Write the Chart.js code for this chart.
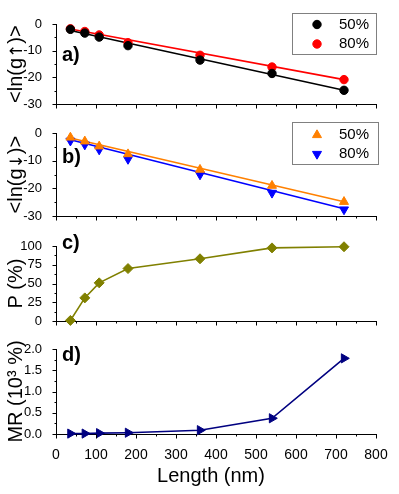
<!DOCTYPE html>
<html><head><meta charset="utf-8">
<script src="https://cdn.jsdelivr.net/npm/chart.js@4.4.1/dist/chart.umd.min.js"></script>
<style>
html,body{margin:0;padding:0;background:#fff;}
#wrap{position:relative;width:399px;height:494px;overflow:hidden;background:#fff;}
canvas{position:absolute;left:0;}
</style></head><body>
<div id="wrap">
<canvas id="pa" width="399" height="118" style="top:0px"></canvas>
<canvas id="pb" width="399" height="112" style="top:118px"></canvas>
<canvas id="pc" width="399" height="105" style="top:230px"></canvas>
<canvas id="pd" width="399" height="159" style="top:335px"></canvas>
</div>
<script>
// ---- data ----
const lengths = [36, 72, 108, 180, 360, 540, 720];
const fitX = [36, 720];
const gUp50 = [-2.0, -3.4, -4.9, -8.1, -13.5, -18.5, -24.8];
const gUp80 = [-1.8, -2.8, -4.1, -7.0, -11.7, -16.1, -20.8];
const gUp50Fit = [-2.4, -24.8];
const gUp80Fit = [-1.9, -20.8];
const gDn50 = [-1.6, -3.0, -4.8, -7.6, -13.2, -19.0, -24.8];
const gDn80 = [-2.8, -4.2, -6.0, -9.4, -15.0, -21.6, -27.6];
const gDn50Fit = [-1.8, -24.8];
const gDn80Fit = [-2.4, -27.3];
const polarization = [1, 31, 51, 70, 83, 97.5, 99];
const magnetoresistance = [0.01, 0.01, 0.02, 0.03, 0.09, 0.37, 1.78];
const xTickValues = [0, 100, 200, 300, 400, 500, 600, 700, 800];
const gTickValues = [-30, -20, -10, 0];
const pTickValues = [0, 25, 50, 75, 100];
const mrTickValues = [0, 0.5, 1.0, 1.5, 2.0];
const seriesLabels = ['50%', '80%'];
const xTitle = 'Length (nm)';
const yTitles = ['<ln(g\u2191)>', '<ln(g\u2193)>', 'P (%)', 'MR (10\u00B3 %)'];
const panelLabels = ['a)', 'b)', 'c)', 'd)'];

const FONT = "'Liberation Sans', Arial, Helvetica, sans-serif";
const ARROW_FONT = "'DejaVu Sans', sans-serif";

function pts(xs, ys) { return xs.map((x, i) => ({ x: x, y: ys[i] })); }

function drawYTitle(ctx, text, cx, cy) {
  ctx.save();
  ctx.translate(cx, cy);
  ctx.rotate(-Math.PI / 2);
  ctx.fillStyle = '#000';
  ctx.textAlign = 'left';
  ctx.textBaseline = 'alphabetic';
  const parts = [];
  let buf = '';
  for (const ch of text) {
    if (ch === '\u2191' || ch === '\u2193') {
      if (buf) parts.push({ t: buf, f: '20px ' + FONT });
      parts.push({ t: ch, f: '17px ' + ARROW_FONT });
      buf = '';
    } else buf += ch;
  }
  if (buf) parts.push({ t: buf, f: '20px ' + FONT });
  let total = 0;
  parts.forEach(p => { ctx.font = p.f; p.w = ctx.measureText(p.t).width; total += p.w; });
  let x = -total / 2;
  parts.forEach(p => { ctx.font = p.f; ctx.fillText(p.t, x, 0); x += p.w; });
  ctx.restore();
}

const decor = {
  id: 'decor',
  afterDraw(chart, args, opts) {
    const ctx = chart.ctx;
    const ca = chart.chartArea;
    ctx.save();
    ctx.strokeStyle = '#000';
    ctx.lineWidth = 1;
    // tick marks (major + minor)
    ['x', 'y'].forEach(id => {
      const s = chart.scales[id];
      const t = opts.ticks[id];
      const n = Math.round((s.max - s.min) / t.minor);
      for (let i = 0; i <= n; i++) {
        const v = s.min + i * t.minor;
        const r = v / t.major;
        const major = Math.abs(r - Math.round(r)) < 1e-6;
        const len = major ? 4 : 2;
        const p = Math.round(s.getPixelForValue(v)) + 0.5;
        ctx.beginPath();
        if (id === 'x') {
          const yb = Math.round(ca.bottom) + 0.5;
          ctx.moveTo(p, yb); ctx.lineTo(p, yb + len);
        } else {
          const xl = Math.round(ca.left) + 0.5;
          ctx.moveTo(xl - len, p); ctx.lineTo(xl, p);
        }
        ctx.stroke();
      }
    });
    // y-axis title
    drawYTitle(ctx, opts.yTitle, 22, (ca.top + ca.bottom) / 2);
    // x-axis title
    if (opts.xTitle) {
      ctx.fillStyle = '#000';
      ctx.font = '20px ' + FONT;
      ctx.textAlign = 'center';
      ctx.textBaseline = 'middle';
      ctx.fillText(opts.xTitle.text, opts.xTitle.x, opts.xTitle.y);
    }
    // panel label
    ctx.fillStyle = '#000';
    ctx.font = 'bold 20px ' + FONT;
    ctx.textAlign = 'left';
    ctx.textBaseline = 'middle';
    ctx.fillText(opts.label.text, opts.label.x, opts.label.y);
    // legend
    if (opts.legend) {
      const L = opts.legend;
      ctx.strokeStyle = '#808080';
      ctx.lineWidth = 1;
      ctx.strokeRect(L.box[0] + 0.5, L.box[1] + 0.5, L.box[2], L.box[3]);
      L.rows.forEach(row => {
        const ds = chart.data.datasets[row.ds];
        ctx.fillStyle = ds.backgroundColor;
        ctx.strokeStyle = ds.borderColor;
        Chart.helpers.drawPoint(ctx, {
          pointStyle: ds.pointStyle, rotation: ds.pointRotation || 0,
          radius: ds.pointRadius, borderWidth: 1
        }, L.mx, row.y);
        ctx.fillStyle = '#000';
        ctx.font = '15px ' + FONT;
        ctx.textAlign = 'left';
        ctx.textBaseline = 'middle';
        ctx.fillText(row.text, L.tx, row.y);
      });
    }
    ctx.restore();
  }
};

function panel(canvasId, o) {
  return new Chart(document.getElementById(canvasId), {
    type: 'scatter',
    data: { datasets: o.datasets },
    options: {
      responsive: false, animation: false, events: [],
      layout: { padding: { top: o.padTop, right: 23, left: 0, bottom: 0 } },
      plugins: {
        legend: { display: false }, tooltip: { enabled: false },
        decor: {
          ticks: { x: { major: 100, minor: 50 }, y: o.yMinor },
          label: o.label, legend: o.legend, yTitle: o.yTitle, xTitle: o.xTitle
        }
      },
      scales: {
        x: {
          type: 'linear', min: 0, max: 800,
          grid: { display: false },
          border: { display: true, color: '#000', width: 1 },
          ticks: { display: !!o.xTitle, font: { family: FONT, size: 14 }, color: '#000', padding: 5 },
          afterBuildTicks: s => { s.ticks = xTickValues.map(v => ({ value: v })); },
          afterFit: s => { s.height = o.xHeight; },
          title: { display: false }
        },
        y: {
          type: 'linear', min: o.yMin, max: o.yMax,
          grid: { display: false },
          border: { display: true, color: '#000', width: 1 },
          ticks: { font: { family: FONT, size: 13 }, color: '#000', padding: 6, callback: o.yFmt },
          afterBuildTicks: s => { s.ticks = o.yTicks.map(v => ({ value: v })); },
          afterFit: s => { s.width = 56; },
          title: { display: false }
        }
      }
    },
    plugins: [decor]
  });
}

function markers(ys, color, style, radius, rot) {
  return { data: pts(lengths, ys), showLine: false, pointStyle: style, pointRadius: radius,
    pointRotation: rot || 0, backgroundColor: color, borderColor: color, borderWidth: 1, clip: false };
}
function fit(ys, color) {
  return { data: pts(fitX, ys), showLine: true, pointRadius: 0, borderColor: color,
    backgroundColor: color, borderWidth: 1.6, clip: false };
}

const RED = '#ff0000', BLACK = '#000000', ORANGE = '#ff8000', BLUE = '#0000ff', OLIVE = '#808000', NAVY = '#000080';

panel('pa', {
  padTop: 24, xHeight: 9, yMin: -30, yMax: 0, yTicks: gTickValues, yMinor: { major: 10, minor: 5 },
  yFmt: v => String(v), yTitle: yTitles[0],
  label: { text: panelLabels[0], x: 62, y: 55 },
  legend: { box: [292, 13, 84, 41], mx: 317, tx: 339,
    rows: [{ ds: 0, text: seriesLabels[0], y: 24.5 }, { ds: 1, text: seriesLabels[1], y: 44 }] },
  datasets: [
    markers(gUp50, BLACK, 'circle', 4.2),
    markers(gUp80, RED, 'circle', 4.2),
    fit(gUp50Fit, BLACK),
    fit(gUp80Fit, RED)
  ]
});

panel('pb', {
  padTop: 15, xHeight: 13, yMin: -30, yMax: 0, yTicks: gTickValues, yMinor: { major: 10, minor: 5 },
  yFmt: v => String(v), yTitle: yTitles[1],
  label: { text: panelLabels[1], x: 62, y: 39 },
  legend: { box: [292, 4, 86, 42], mx: 317, tx: 339,
    rows: [{ ds: 0, text: seriesLabels[0], y: 17 }, { ds: 1, text: seriesLabels[1], y: 36 }] },
  datasets: [
    markers(gDn50, ORANGE, 'triangle', 5.2, 0),
    markers(gDn80, BLUE, 'triangle', 5.2, 180),
    fit(gDn50Fit, ORANGE),
    fit(gDn80Fit, BLUE)
  ]
});

panel('pc', {
  padTop: 16, xHeight: 9, yMin: 0, yMax: 100, yTicks: pTickValues, yMinor: { major: 25, minor: 12.5 },
  yFmt: v => String(v), yTitle: yTitles[2],
  label: { text: panelLabels[2], x: 62, y: 13.5 },
  datasets: [
    { data: pts(lengths, polarization), showLine: true, pointStyle: 'rectRot', pointRadius: 5,
      backgroundColor: OLIVE, borderColor: OLIVE, borderWidth: 1.6, pointBorderWidth: 1, clip: false }
  ]
});

panel('pd', {
  padTop: 14, xHeight: 60, yMin: 0, yMax: 2, yTicks: mrTickValues, yMinor: { major: 0.5, minor: 0.25 },
  yFmt: v => Number(v).toFixed(1), yTitle: yTitles[3],
  xTitle: { text: xTitle, x: 211, y: 141 },
  label: { text: panelLabels[3], x: 62, y: 20 },
  datasets: [
    { data: pts(lengths, magnetoresistance), showLine: true, pointStyle: 'triangle', pointRotation: 90,
      pointRadius: 5.3, backgroundColor: NAVY, borderColor: NAVY, borderWidth: 1.6, pointBorderWidth: 1, clip: false }
  ]
});
</script>
</body></html>
